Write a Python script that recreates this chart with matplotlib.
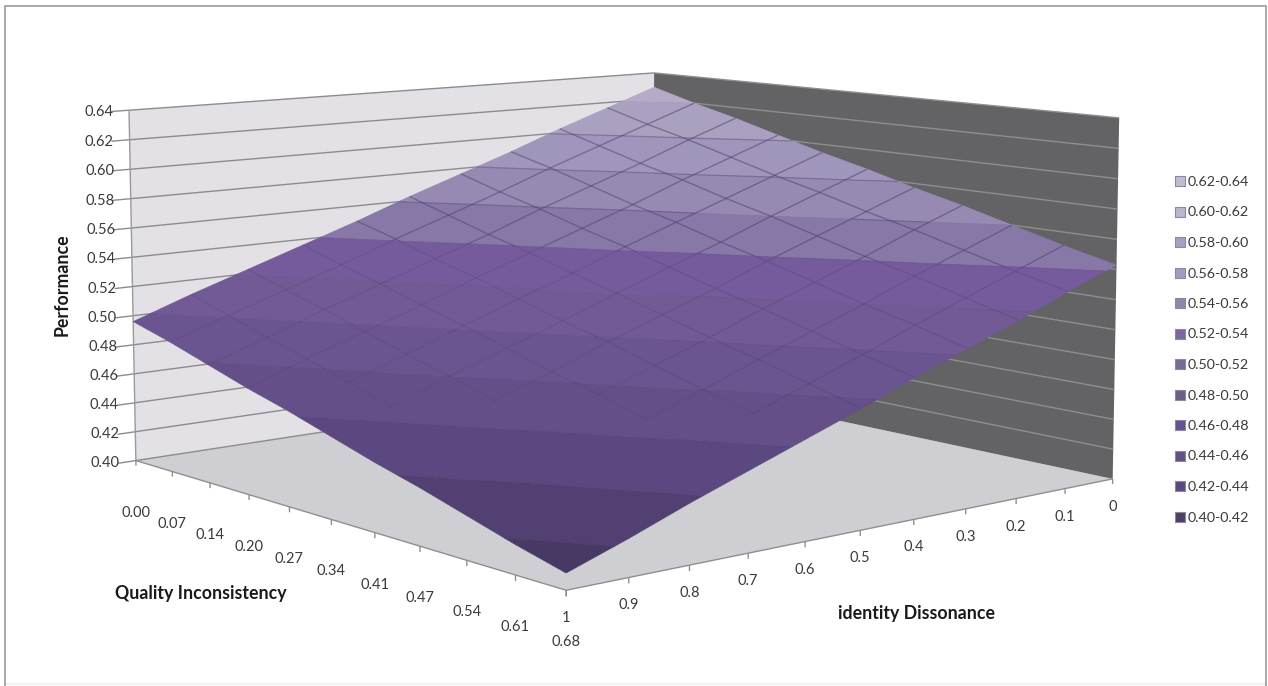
import numpy as np
import matplotlib
matplotlib.use("Agg")
import matplotlib.pyplot as plt

plt.rcParams['font.family'] = ['Lato', 'DejaVu Sans']

quality_labels = ["0.00", "0.07", "0.14", "0.20", "0.27", "0.34", "0.41", "0.47", "0.54", "0.61", "0.68"]
identity_labels = ["0", "0.1", "0.2", "0.3", "0.4", "0.5", "0.6", "0.7", "0.8", "0.9", "1"]
z_ticks = [0.40, 0.42, 0.44, 0.46, 0.48, 0.50, 0.52, 0.54, 0.56, 0.58, 0.60, 0.62, 0.64]
band_labels = ["0.62-0.64", "0.60-0.62", "0.58-0.60", "0.56-0.58", "0.54-0.56", "0.52-0.54",
               "0.50-0.52", "0.48-0.50", "0.46-0.48", "0.44-0.46", "0.42-0.44", "0.40-0.42"]

# rows = identity dissonance 0..1, columns = quality inconsistency 0..0.68
performance = np.array([
    [.629, .620, .612, .603, .594, .586, .577, .569, .560, .551, .543],
    [.616, .607, .599, .590, .581, .573, .564, .556, .547, .538, .530],
    [.603, .594, .585, .577, .568, .560, .551, .542, .534, .525, .516],
    [.589, .581, .572, .563, .555, .546, .538, .529, .520, .512, .503],
    [.576, .567, .559, .550, .542, .533, .524, .516, .507, .498, .490],
    [.563, .554, .545, .537, .528, .520, .511, .502, .494, .485, .476],
    [.549, .541, .532, .524, .515, .506, .498, .489, .480, .472, .463],
    [.536, .527, .519, .510, .502, .493, .484, .476, .467, .458, .450],
    [.523, .514, .506, .497, .488, .480, .471, .462, .454, .445, .437],
    [.510, .501, .492, .484, .475, .466, .458, .449, .440, .432, .423],
    [.496, .488, .479, .470, .462, .453, .444, .436, .427, .418, .410],
])

surface_colors = ["#b5abc6", "#aaa0c0", "#a095ba", "#9689b2", "#8778a8", "#755b9c",
                  "#725a96", "#6b5590", "#654f88", "#5c4880", "#524072", "#483864"]
legend_colors = ["#c2bdce", "#bcb6cc", "#a89ec4", "#a39ac0", "#8f86a8", "#7b68a0",
                 "#776a96", "#6c5f86", "#65548f", "#60527c", "#5b4880", "#4c4163"]

# camera fitted on the corners of the chart box: (i, j, z) -> pixel
box_corners = [(0, 10, .64), (0, 10, .40), (0, 0, .64), (0, 0, .40), (10, 0, .64), (10, 0, .40), (10, 10, .40)]
box_pixels = [(128, 110), (137, 461), (656, 73), (652, 381), (1118, 118), (1114, 479), (566, 590)]

rows = []
rhs = []
for (i, j, z), (u, v) in zip(box_corners, box_pixels):
    X = [i / 10, j / 10, (z - .4) / .24, 1]
    rows.append(X + [0, 0, 0, 0] + [-u * c for c in X[:3]])
    rows.append([0, 0, 0, 0] + X + [-v * c for c in X[:3]])
    rhs += [u, v]
cam = np.linalg.lstsq(np.array(rows, float), np.array(rhs, float), rcond=None)[0]
cam = np.append(cam, 1).reshape(3, 4)


def project(i, j, z):
    p = cam @ np.array([i / 10, j / 10, (z - .4) / .24, 1])
    return p[0] / p[2], p[1] / p[2]


def clip(poly, level, keep_above):
    out = []
    for a, b in zip(poly, poly[1:] + poly[:1]):
        ina = a[2] >= level if keep_above else a[2] <= level
        inb = b[2] >= level if keep_above else b[2] <= level
        if ina:
            out.append(a)
        if ina != inb:
            t = (level - a[2]) / (b[2] - a[2])
            out.append((a[0] + t * (b[0] - a[0]), a[1] + t * (b[1] - a[1]), level))
    return out


def fill3d(ax, pts, **kw):
    xy = [project(*p) for p in pts]
    ax.fill([p[0] for p in xy], [p[1] for p in xy], **kw)


def line3d(ax, a, b, **kw):
    pa, pb = project(*a), project(*b)
    ax.plot([pa[0], pb[0]], [pa[1], pb[1]], solid_capstyle='butt', **kw)


fig = plt.figure(figsize=(12.68, 6.86), dpi=100)
ax = fig.add_axes([0, 0, 1, 1])
ax.set_xlim(0, 1268)
ax.set_ylim(686, 0)
ax.axis('off')

# outer frame, the bottom edge is almost gone in the original
ax.plot([5, 1265], [684, 684], color="#efefef", lw=1.2)
ax.plot([5, 5, 1265.5, 1265.5], [686, 5.5, 5.5, 686], color="#a8a8a8", lw=1.4)

# walls and floor
fill3d(ax, [(0, 0, .40), (10, 0, .40), (10, 10, .40), (0, 10, .40)], color="#cfced2", lw=0, zorder=1)
fill3d(ax, [(0, 10, .40), (0, 0, .40), (0, 0, .64), (0, 10, .64)], color="#e3e1e6", lw=0, zorder=1)
fill3d(ax, [(0, 0, .40), (10, 0, .40), (10, 0, .64), (0, 0, .64)], color="#636264", lw=0, zorder=1)

for z in z_ticks:
    line3d(ax, (0, 10.3, z), (0, 0, z), color="#8c8b8e", lw=1, zorder=2)
    if z > .40:
        line3d(ax, (0, 0, z), (10, 0, z), color="#8e8e8e", lw=1, zorder=2)
    x, y = project(0, 10, z)
    ax.text(x - 16, y + 2, "%.2f" % z, ha='right', va='center', fontsize=10.5, color="#3a3a3a")
line3d(ax, (0, 10, .40), (0, 10, .64), color="#9a9a9c", lw=1, zorder=2)
line3d(ax, (0, 10, .40), (10, 10, .40), color="#8f8f8f", lw=1, zorder=2)
line3d(ax, (10, 10, .40), (10, 0, .40), color="#8f8f8f", lw=1, zorder=2)

# ticks and labels on the two floor axes
for i, lab in enumerate(quality_labels):
    line3d(ax, (i, 10, .40), (i, 10, .3965), color="#8f8f8f", lw=1, zorder=2)
    x, y = project(i, 10, .40)
    ax.text(x, y + 52, lab, ha='center', va='center', fontsize=10.5, color="#3a3a3a")
for j, lab in enumerate(identity_labels):
    line3d(ax, (10, j, .40), (10, j, .3965), color="#8f8f8f", lw=1, zorder=2)
    x, y = project(10, j, .40)
    ax.text(x, y + 28, lab, ha='center', va='center', fontsize=10.5, color="#3a3a3a")

# surface, cell by cell and cut into the 0.02 bands
levels = [.64 - .02 * k for k in range(12)]
n = performance.shape[0]
for j in range(n - 1):
    for i in range(n - 1):
        cell = [(i, j, performance[j, i]), (i + 1, j, performance[j, i + 1]),
                (i + 1, j + 1, performance[j + 1, i + 1]), (i, j + 1, performance[j + 1, i])]
        for k, hi in enumerate(levels):
            poly = clip(cell, hi, False)
            if poly:
                poly = clip(poly, hi - .02, True)
            if len(poly) >= 3:
                c = surface_colors[k]
                fill3d(ax, poly, facecolor=c, edgecolor=c, lw=0.4, zorder=3)
                # darker seams between the bands, fading towards the bottom
                lo = hi - .02
                if lo > .46:
                    low = [p for p in poly if abs(p[2] - lo) < 1e-9]
                    if len(low) == 2:
                        line3d(ax, low[0], low[1], color="#5a4a78", lw=0.9, alpha=.45 if lo > .545 else .18, zorder=4)


# grid lines on the surface, strong above 0.54, faint below
def grid_segment(a, b):
    if (a[2] - .54) * (b[2] - .54) < 0:
        t = (.54 - a[2]) / (b[2] - a[2])
        m = (a[0] + t * (b[0] - a[0]), a[1] + t * (b[1] - a[1]), .54)
        grid_segment(a, m)
        grid_segment(m, b)
        return
    mean_z = (a[2] + b[2]) / 2
    alpha = .5 if mean_z > .54 else (.28 if mean_z > .47 else .1)
    line3d(ax, a, b, color="#4f3f70", lw=1.0, alpha=alpha, zorder=4)


# the outer edge of the surface has no line
for j in range(1, n - 1):
    for i in range(n - 1):
        grid_segment((i, j, performance[j, i]), (i + 1, j, performance[j, i + 1]))
        grid_segment((j, i, performance[i, j]), (j, i + 1, performance[i + 1, j]))

# axis titles
ax.text(62, 285, "Performance", rotation=90, ha='center', va='center', fontsize=12.8, fontweight='bold', color="#1a1a1a")
ax.text(201, 594, "Quality Inconsistency", ha='center', va='center', fontsize=12.8, fontweight='bold', color="#1a1a1a")
ax.text(917, 614, "identity Dissonance", ha='center', va='center', fontsize=12.8, fontweight='bold', color="#1a1a1a")

# legend
for k, lab in enumerate(band_labels):
    y = 181 + 30.5 * k
    ax.scatter([1180], [y], marker='s', s=50, facecolor=legend_colors[k], edgecolor="#8d88a0", linewidth=.8, zorder=3)
    ax.text(1188, y + 1, lab, ha='left', va='center', fontsize=10.3, color="#3a3a3a")

ax.set_xlim(0, 1268)
ax.set_ylim(686, 0)
fig.savefig("out.png", dpi=100)
